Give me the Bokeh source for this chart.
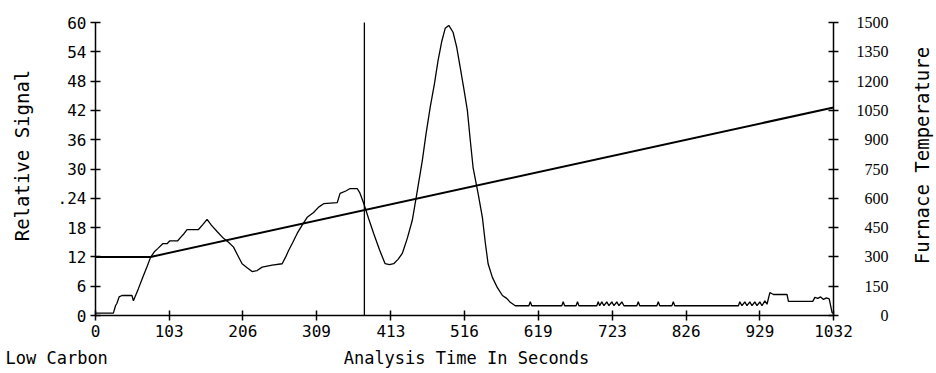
import math
from bokeh.plotting import figure
from bokeh.models import Range1d, LinearAxis, FixedTicker, Label, LabelSet, ColumnDataSource
from bokeh.embed import file_html
from bokeh.resources import INLINE

# ---- data ----
signal_time = [0, 25, 28, 30, 33, 37, 51, 53, 60, 66, 72, 77, 82, 87, 94, 100, 104, 115, 119, 124,
               128, 144, 150, 156, 162, 170, 179, 186, 193, 199, 205, 212, 219, 226, 233, 247,
               261, 266, 270, 276, 282, 289, 296, 305, 312, 319, 338, 342, 350, 356, 366, 370,
               375, 382, 389, 397, 405, 411, 417, 423, 429, 436, 443, 450, 457, 462, 468, 474,
               479, 484, 489, 494, 500, 505, 510, 515, 520, 524, 528, 535, 541, 545, 549, 555,
               562, 569, 575, 580, 587,
               600, 606, 608, 610, 652, 654, 656, 672, 674, 676, 701, 703, 705, 708, 711, 715,
               718, 722, 725, 729, 732, 736, 739, 757, 759, 761, 785, 787, 789, 806, 808, 810,
               899, 901, 904, 908, 911, 915, 918, 922, 925, 929, 932, 936, 939, 943, 948, 967,
               969, 1003, 1006, 1010, 1014, 1018, 1022, 1026, 1030, 1032]
signal_value = [0.5, 0.5, 2.0, 2.5, 3.8, 4.1, 4.1, 3.0, 5.5, 7.8, 10.0, 11.9, 13.0, 13.7, 14.7, 14.7,
                15.3, 15.3, 16.0, 16.8, 17.6, 17.6, 18.6, 19.7, 18.5, 17.2, 15.8, 15.0, 14.0, 12.3,
                10.6, 9.8, 9.0, 9.2, 9.9, 10.3, 10.6, 12.0, 13.3, 15.0, 16.8, 18.5, 20.1, 21.1,
                22.2, 22.9, 23.1, 25.0, 25.5, 26.0, 26.0, 25.0, 23.0, 19.8, 16.8, 13.5, 10.6, 10.4,
                10.6, 11.5, 12.7, 15.8, 19.5, 25.5, 31.7, 37.0, 42.6, 47.5, 52.2, 56.0, 58.8, 59.4,
                58.0, 55.0, 50.8, 46.5, 42.0, 36.0, 30.3, 25.0, 20.1, 15.0, 10.6, 7.8, 5.7, 4.1,
                3.5, 2.7, 2.0,
                2.0, 2.0, 2.8, 2.0, 2.0, 2.8, 2.0, 2.0, 2.8, 2.0, 2.0, 2.8, 2.0, 2.8, 2.0, 2.8,
                2.0, 2.8, 2.0, 2.8, 2.0, 2.8, 2.0, 2.0, 2.8, 2.0, 2.0, 2.8, 2.0, 2.0, 2.8, 2.0,
                2.0, 2.8, 2.0, 2.8, 2.0, 2.8, 2.0, 2.8, 2.0, 2.8, 2.0, 3.0, 2.3, 4.7, 4.3, 4.3,
                2.9, 2.9, 3.7, 3.5, 3.8, 3.3, 3.6, 3.4, 0.6, 0.5]

temp_time = [0, 77, 1032]
temp_value = [300, 300, 1065]

marker_time = 376

x_ticks = [0, 103, 206, 309, 413, 516, 619, 723, 826, 929, 1032]
left_ticks = [0, 6, 12, 18, 24, 30, 36, 42, 48, 54, 60]
left_overrides = {24: ".24"}
right_ticks = [0, 150, 300, 450, 600, 750, 900, 1050, 1200, 1350, 1500]
right_tick_labels = ["0", "150", "300", "450", "600", "750", "900", "1050", "1200", "1350", "1500"]

FONT = "DejaVu Sans Mono"

# ---- layout: data area of the axes inside a full-canvas frame ----
W, H = 936, 373
AX_L, AX_R, AX_T, AX_B = 95, 833, 22, 315          # pixel box of the axes
x0, x1 = x_ticks[0], x_ticks[-1]
y0, y1 = left_ticks[0], left_ticks[-1]
t0, t1 = right_ticks[0], right_ticks[-1]
sx = (AX_R - AX_L) / (x1 - x0)
sy = (AX_B - AX_T) / (y1 - y0)
x_lo, x_hi = x0 - AX_L / sx, x1 + (W - AX_R) / sx
y_lo, y_hi = y0 - (H - AX_B) / sy, y1 + AX_T / sy
tk = (t1 - t0) / (y1 - y0)

def px_to_x(px):
    return x0 + (px - AX_L) / sx

def px_to_y(py):
    return y0 + (AX_B - py) / sy

p = figure(width=W, height=H, output_backend="svg", toolbar_location=None,
           x_range=Range1d(x_lo, x_hi), y_range=Range1d(y_lo, y_hi),
           x_axis_location=None, y_axis_location=None,
           min_border=0, min_border_left=0, min_border_right=0,
           min_border_top=0, min_border_bottom=0)
p.extra_y_ranges = {"temp": Range1d(t0 + (y_lo - y0) * tk, t0 + (y_hi - y0) * tk)}
p.outline_line_color = None
p.grid.visible = False
p.background_fill_color = "white"
p.border_fill_color = "white"

def style_axis(ax):
    ax.axis_line_width = 1.5
    ax.major_tick_line_width = 1.5
    ax.major_tick_in = 5
    ax.major_tick_out = 5
    ax.minor_tick_line_color = None
    ax.major_label_text_font = FONT
    ax.major_label_text_font_size = "16px"
    ax.major_label_text_color = "black"
    ax.major_label_standoff = 4

xaxis = LinearAxis(ticker=FixedTicker(ticks=x_ticks), fixed_location=y0, bounds=(x0, x1))
style_axis(xaxis)
p.add_layout(xaxis, "below")

laxis = LinearAxis(ticker=FixedTicker(ticks=left_ticks), fixed_location=x0, bounds=(y0, y1))
style_axis(laxis)
laxis.major_label_overrides = left_overrides
p.add_layout(laxis, "left")

raxis = LinearAxis(y_range_name="temp", ticker=FixedTicker(ticks=right_ticks),
                   fixed_location=x1, bounds=(t0, t1))
style_axis(raxis)
raxis.major_label_text_alpha = 0
p.add_layout(raxis, "right")

rsrc = ColumnDataSource(dict(y=right_ticks, text=right_tick_labels))
p.add_layout(LabelSet(x=px_to_x(888), y="y", text="text", source=rsrc, y_range_name="temp",
                      text_align="right", text_baseline="middle",
                      text_font=FONT, text_font_size="16px", text_color="black"))

p.line(temp_time, temp_value, y_range_name="temp", line_color="black", line_width=2)
p.line(signal_time, signal_value, line_color="black", line_width=1.3)
p.segment(x0=[marker_time], y0=[y0], x1=[marker_time], y1=[y1], line_color="black", line_width=1.3)

def lab(text, px, py, align="center", angle=0, size="17px"):
    p.add_layout(Label(x=px_to_x(px), y=px_to_y(py), text=text, text_align=align,
                       text_baseline="middle", angle=angle, text_font=FONT,
                       text_font_size=size, text_color="black"))

lab("Low Carbon", 5, 357, align="left")
lab("Analysis Time In Seconds", 466, 357)
lab("Relative Signal", 21, 155, angle=math.pi / 2, size="19px")
lab("Furnace Temperature", 921, 155, angle=math.pi / 2, size="19px")

open("out.html", "w").write(file_html(p, INLINE))
